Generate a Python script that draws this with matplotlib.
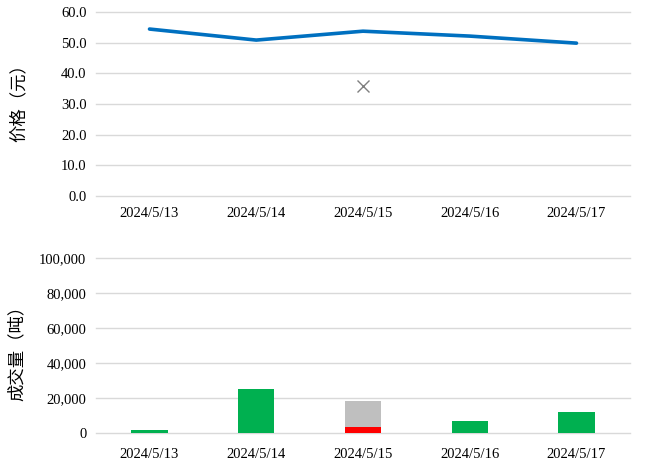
import numpy as np
import matplotlib.pyplot as plt
from matplotlib.ticker import FuncFormatter

plt.rcParams['font.family'] = ['Noto Sans CJK SC', 'DejaVu Sans']

dates = ["2024/5/13", "2024/5/14", "2024/5/15", "2024/5/16", "2024/5/17"]
price = [54.5, 50.9, 53.8, 52.2, 49.9]
price_other = [np.nan, np.nan, 35.9, np.nan, np.nan]
vol_green = [1400, 25200, 0, 6900, 12000]
vol_red = [0, 0, 3300, 0, 0]
vol_gray = [0, 0, 15000, 0, 0]

grid_c = '#D9D9D9'
x = np.arange(len(dates))

fig = plt.figure(figsize=(6.63, 4.69), dpi=100)
ax1 = fig.add_axes([0.145, 0.582, 0.805, 0.392])
ax2 = fig.add_axes([0.145, 0.077, 0.805, 0.373])

# price
ax1.plot(x, price, color='#0070C0', lw=2.6, solid_capstyle='round')
ax1.plot(x, price_other, ls='none', marker='x', ms=8, mew=1.0, color='#7F7F7F')
ax1.set_ylim(0, 60)
ax1.set_yticks(np.arange(0, 61, 10))
ax1.yaxis.set_major_formatter(FuncFormatter(lambda v, p: f"{v:.1f}"))
ax1.set_ylabel("价格（元）", fontsize=12.5)
ax1.yaxis.set_label_coords(-0.128, 0.53)

# volume
ax2.bar(x, vol_green, width=0.34, color='#00B050', zorder=3)
ax2.bar(x, vol_red, width=0.34, color='#FF0000', zorder=3)
ax2.bar(x, vol_gray, width=0.34, bottom=vol_red, color='#BFBFBF', zorder=3)
ax2.set_ylim(0, 100000)
ax2.set_yticks(np.arange(0, 100001, 20000))
ax2.yaxis.set_major_formatter(FuncFormatter(lambda v, p: f"{int(v):,}"))
ax2.set_ylabel("成交量（吨）", fontsize=12.5)
ax2.yaxis.set_label_coords(-0.132, 0.48)

for ax in (ax1, ax2):
    ax.set_xlim(-0.5, len(dates) - 0.5)
    ax.set_xticks(x)
    ax.set_xticklabels(dates)
    ax.grid(axis='y', color=grid_c, lw=1)
    for gl in ax.get_ygridlines():
        gl.set_clip_on(False)
    ax.set_axisbelow(True)
    for s in ax.spines.values():
        s.set_visible(False)
    ax.tick_params(length=0)
    ax.tick_params(axis='y', pad=7)
    for lab in ax.get_xticklabels() + ax.get_yticklabels():
        lab.set_fontfamily('Liberation Serif')
        lab.set_fontsize(10.5)

ax1.tick_params(axis='x', pad=8)
ax2.tick_params(axis='x', pad=11)

plt.savefig("out.png", dpi=100)
